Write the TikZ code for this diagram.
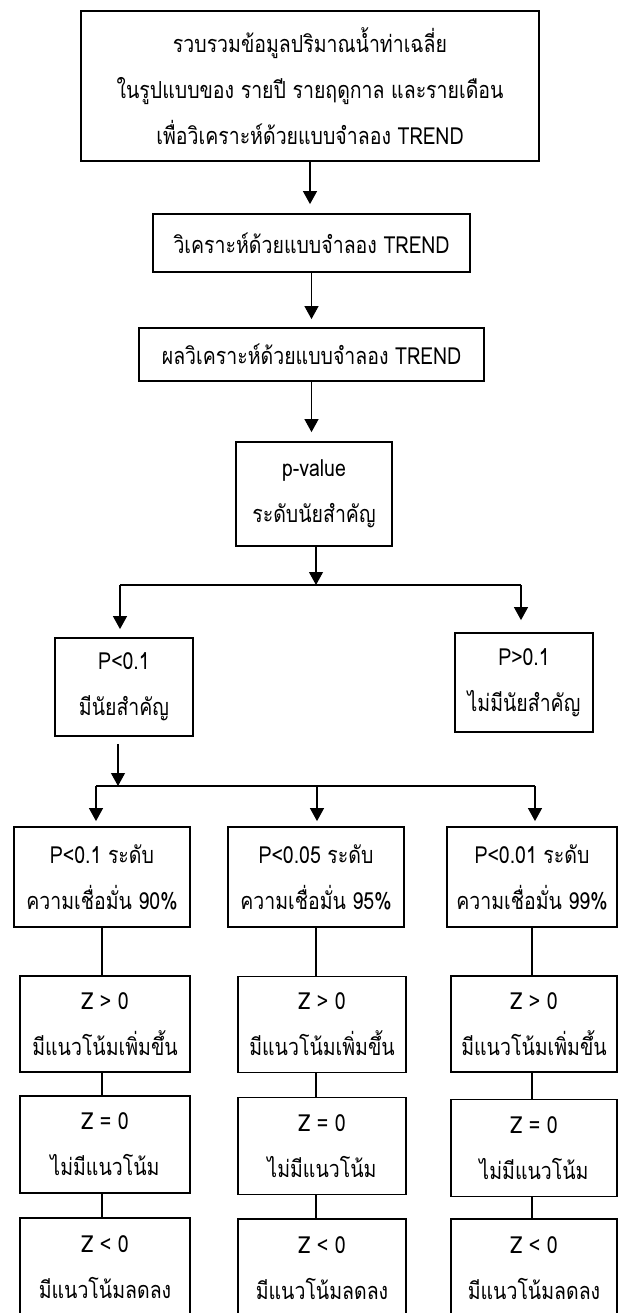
\documentclass[tikz,border=0pt]{standalone}
\usepackage{fontspec}
\setmainfont[Script=Thai, FakeStretch=0.83]{Loma}
\usetikzlibrary{arrows.meta}
\begin{document}
\begin{tikzpicture}[x=1pt,y=-1pt,
  box/.style={draw, line width=1.8pt, inner sep=0pt, align=center,
    font=\fontsize{23.5}{46}\selectfont},
  arr/.style={line width=1.1pt, -{Triangle[length=13pt,width=14pt]}},
  ln/.style={line width=1.1pt}]
\useasboundingbox (0,0) rectangle (619,1313);
\clip (0,0) rectangle (619,1313);
% main chain
\node[box, minimum width=458pt, minimum height=150pt] (t) at (310,86)
  {รวบรวมข้อมูลปริมาณน้ำท่าเฉลี่ย\\ในรูปแบบของ รายปี รายฤดูกาล และรายเดือน\\เพื่อวิเคราะห์ด้วยแบบจำลอง TREND};
\node[box, minimum width=317pt, minimum height=58pt] (b2) at (311.5,243)
  {วิเคราะห์ด้วยแบบจำลอง TREND};
\node[box, minimum width=345pt, minimum height=53pt] (b3) at (311.5,354.5)
  {ผลวิเคราะห์ด้วยแบบจำลอง TREND};
\node[box, minimum width=156pt, minimum height=104pt] (b4) at (314,494)
  {p-value\\ระดับนัยสำคัญ};
\node[box, minimum width=138pt, minimum height=98pt] (pl) at (124,687)
  {P<0.1\\มีนัยสำคัญ};
\node[box, minimum width=138pt, minimum height=99pt] (pr) at (524,682.5)
  {P>0.1\\ไม่มีนัยสำคัญ};
% confidence row
\node[box, minimum width=176pt, minimum height=100pt] (ra) at (102,877)
  {P<0.1 ระดับ\\ความเชื่อมั่น 90\%};
\node[box, minimum width=176pt, minimum height=100pt] (rb) at (316,877)
  {P<0.05 ระดับ\\ความเชื่อมั่น 95\%};
\node[box, minimum width=170pt, minimum height=100pt] (rc) at (532,877)
  {P<0.01 ระดับ\\ความเชื่อมั่น 99\%};
% Z > 0
\node[box, minimum width=170pt, minimum height=96pt] (za) at (105,1024)
  {Z > 0\\มีแนวโน้มเพิ่มขึ้น};
\node[box, minimum width=168pt, minimum height=96pt] (zb) at (322,1024.5)
  {Z > 0\\มีแนวโน้มเพิ่มขึ้น};
\node[box, minimum width=166pt, minimum height=96pt] (zc) at (534,1024)
  {Z > 0\\มีแนวโน้มเพิ่มขึ้น};
% Z = 0
\node[box, minimum width=170pt, minimum height=97pt] (ea) at (105,1144.5)
  {Z = 0\\ไม่มีแนวโน้ม};
\node[box, minimum width=168pt, minimum height=97pt] (eb) at (322,1146)
  {Z = 0\\ไม่มีแนวโน้ม};
\node[box, minimum width=166pt, minimum height=97pt] (ec) at (534,1148)
  {Z = 0\\ไม่มีแนวโน้ม};
% Z < 0
\node[box, minimum width=170pt, minimum height=98pt] (la) at (105,1267)
  {Z < 0\\มีแนวโน้มลดลง};
\node[box, minimum width=168pt, minimum height=98pt] (lb) at (322,1268)
  {Z < 0\\มีแนวโน้มลดลง};
\node[box, minimum width=166pt, minimum height=98pt] (lc) at (534,1268)
  {Z < 0\\มีแนวโน้มลดลง};
% fork coordinates
\coordinate (f1) at (316,585);
\coordinate (f1l) at (120,585);
\coordinate (f1r) at (521,585);
\coordinate (f2) at (118,786);
\coordinate (f2l) at (96,786);
\coordinate (f2m) at (317,786);
\coordinate (f2r) at (535,786);
% arrows of the main chain
\draw[arr, shorten >=9pt] (t.south) -- (t.south |- b2.north);
\draw[arr, shorten >=8pt] (b2.south) -- (b2.south |- b3.north);
\draw[arr, shorten >=9pt] (b3.south) -- (b3.south |- b4.north);
\draw[arr] (b4.south -| f1) -- (f1);
% first fork
\draw[ln] (f1l) -- (f1r);
\draw[arr, shorten >=8pt] (f1l) -- (f1l |- pl.north);
\draw[arr, shorten >=12pt] (f1r) -- (f1r |- pr.north);
% second fork
\draw[arr, shorten <=7pt] (pl.south -| f2) -- (f2);
\draw[ln] (f2l) -- (f2r);
\draw[arr, shorten >=5pt] (f2l) -- (f2l |- ra.north);
\draw[arr, shorten >=5pt] (f2m) -- (f2m |- rb.north);
\draw[arr, shorten >=5pt] (f2r) -- (f2r |- rc.north);
% plain connectors in the columns
\draw[ln] (ra.south) -- (ra.south |- za.north);
\draw[ln] (rb.south) -- (rb.south |- zb.north);
\draw[ln] (rc.south) -- (rc.south |- zc.north);
\draw[ln] (za.south -| ra.south) -- (ra.south |- ea.north);
\draw[ln] (zb.south -| rb.south) -- (rb.south |- eb.north);
\draw[ln] (zc.south -| rc.south) -- (rc.south |- ec.north);
\draw[ln] (ea.south -| ra.south) -- (ra.south |- la.north);
\draw[ln] (eb.south -| rb.south) -- (rb.south |- lb.north);
\draw[ln] (ec.south -| rc.south) -- (rc.south |- lc.north);
\end{tikzpicture}
\end{document}
